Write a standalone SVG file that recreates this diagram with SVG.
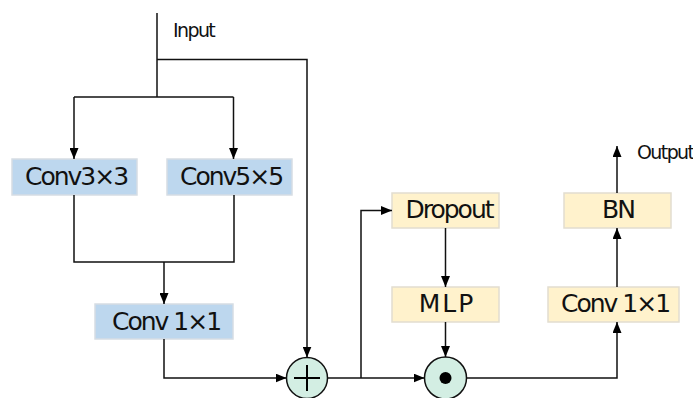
<svg xmlns="http://www.w3.org/2000/svg" width="693" height="398" viewBox="0 0 693 398">
<style>
.blue{fill:#bdd7ee;stroke:#d6dde4;stroke-width:1.5}
.yel{fill:#fff2cc;stroke:#e2ddd0;stroke-width:1.5}
.lbl{font-family:"DejaVu Sans",sans-serif;font-size:25px;fill:#111;text-anchor:middle;letter-spacing:-2px}
.small{font-family:"DejaVu Sans",sans-serif;font-size:19px;fill:#111;letter-spacing:-1.6px}
.conn path{fill:none;stroke:#111;stroke-width:1.5}
.op{fill:#d3eee3;stroke:#111;stroke-width:1.5}
</style>
<defs>
<marker id="ah" markerWidth="11" markerHeight="9" refX="11" refY="4.5" orient="auto" markerUnits="userSpaceOnUse">
<path d="M0,0 L11,4.5 L0,9 z" fill="#000"/>
</marker>
</defs>
<g id="conv3x3"><rect class="blue" x="12" y="159" width="125" height="36"/><text class="lbl" x="76" y="185">Conv3×3</text></g>
<g id="conv5x5"><rect class="blue" x="167" y="159" width="125" height="36"/><text class="lbl" x="231" y="185">Conv5×5</text></g>
<g id="conv1x1a"><rect class="blue" x="95" y="304" width="138" height="35"/><text class="lbl" x="166" y="329.5">Conv 1×1</text></g>
<g id="dropout"><rect class="yel" x="392" y="193" width="107" height="35"/><text class="lbl" x="449" y="218">Dropout</text></g>
<g id="mlp"><rect class="yel" x="392" y="287" width="107" height="35"/><text class="lbl" x="447" y="312" style="letter-spacing:2px">MLP</text></g>
<g id="conv1x1b"><rect class="yel" x="548" y="287" width="131" height="35"/><text class="lbl" x="615" y="312">Conv 1×1</text></g>
<g id="bn"><rect class="yel" x="564" y="193" width="107" height="35"/><text class="lbl" x="618" y="218">BN</text></g>
<g id="add"><circle class="op" cx="307" cy="378" r="20.5"/><path d="M294,378 H320 M307,365 V391" stroke="#000" stroke-width="2" fill="none"/></g>
<g id="mul"><circle class="op" cx="445.5" cy="378" r="21"/><circle cx="445.5" cy="378" r="6" fill="#000"/></g>
<g id="labels"><text class="small" x="173" y="37">Input</text><text class="small" x="637" y="159">Output</text></g>
<g class="conn" id="connectors">
<path d="M157,13 V97"/>
<path d="M157,59.5 H307 V357.5" marker-end="url(#ah)"/>
<path d="M74,97 H233.5"/>
<path d="M74,97 V159" marker-end="url(#ah)"/>
<path d="M233.5,97 V159" marker-end="url(#ah)"/>
<path d="M74,195 V262 H234 V195"/>
<path d="M164,262 V304" marker-end="url(#ah)"/>
<path d="M164,339 V378 H286.5" marker-end="url(#ah)"/>
<path d="M327.5,378 H424.5" marker-end="url(#ah)"/>
<path d="M361,378 V210.5 H392" marker-end="url(#ah)"/>
<path d="M445.5,228 V287" marker-end="url(#ah)"/>
<path d="M445.5,322 V357" marker-end="url(#ah)"/>
<path d="M466.5,378 H617 V322" marker-end="url(#ah)"/>
<path d="M617,287 V228" marker-end="url(#ah)"/>
<path d="M617,193 V146" marker-end="url(#ah)"/>
</g>
</svg>
